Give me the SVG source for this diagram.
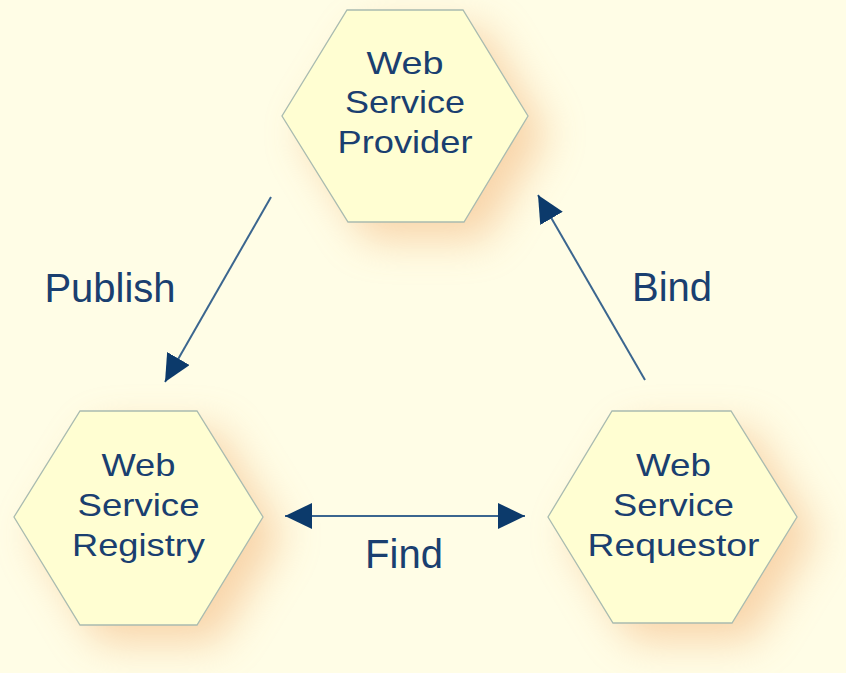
<svg xmlns="http://www.w3.org/2000/svg" width="846" height="673" viewBox="0 0 846 673">
<style>
.hex{fill:#fffed2;stroke:#a9bbb0;stroke-width:1.3}
.glow{fill:#f2ad70;opacity:0.5;filter:url(#blur)}
.nt{font-family:"Liberation Sans",Arial,sans-serif;font-size:32px;fill:#1a3f70;text-anchor:middle}
.lb{font-family:"Liberation Sans",Arial,sans-serif;font-size:40px;fill:#1a3f70;text-anchor:middle}
.edge{stroke:#3b668f;stroke-width:2;fill:none}
</style>
<defs>
<filter id="blur" x="-50%" y="-50%" width="200%" height="200%"><feGaussianBlur stdDeviation="20"/></filter>
<marker id="ah" markerUnits="userSpaceOnUse" markerWidth="30" markerHeight="28" refX="27" refY="13" orient="auto-start-reverse" viewBox="0 0 30 28">
<path d="M0,0 L27,13 L0,26 Z" fill="#0c3a6b"/>
</marker>
</defs>
<rect width="846" height="673" fill="#fffde6"/>
<g id="provider">
<polygon class="glow" points="367,28 483,28 548,134 484,240 368,240 302,134"/>
<polygon class="hex" points="347,10 463,10 528,116 464,222 348,222 282,116"/>
<text class="nt" x="405" y="74" textLength="77" lengthAdjust="spacingAndGlyphs">Web</text>
<text class="nt" x="405" y="113" textLength="120" lengthAdjust="spacingAndGlyphs">Service</text>
<text class="nt" x="405" y="153" textLength="135" lengthAdjust="spacingAndGlyphs">Provider</text>
</g>
<g id="registry">
<polygon class="glow" points="100,429 217,429 283,535 217,643 100,643 34,535"/>
<polygon class="hex" points="80,411 197,411 263,517 197,625 80,625 14,517"/>
<text class="nt" x="138.5" y="476" textLength="74" lengthAdjust="spacingAndGlyphs">Web</text>
<text class="nt" x="138.5" y="516" textLength="122" lengthAdjust="spacingAndGlyphs">Service</text>
<text class="nt" x="138.5" y="556" textLength="133" lengthAdjust="spacingAndGlyphs">Registry</text>
</g>
<g id="requestor">
<polygon class="glow" points="632,429 751,429 817,535 752,641 633,641 568,535"/>
<polygon class="hex" points="612,411 731,411 797,517 732,623 613,623 548,517"/>
<text class="nt" x="673.5" y="476" textLength="75" lengthAdjust="spacingAndGlyphs">Web</text>
<text class="nt" x="673.5" y="516" textLength="121" lengthAdjust="spacingAndGlyphs">Service</text>
<text class="nt" x="673.5" y="556" textLength="172" lengthAdjust="spacingAndGlyphs">Requestor</text>
</g>
<g id="connectors">
<line class="edge" x1="271" y1="197" x2="165" y2="382" marker-end="url(#ah)"/>
<line class="edge" x1="645" y1="380" x2="538" y2="195" marker-end="url(#ah)"/>
<line class="edge" x1="285" y1="516" x2="525" y2="516" marker-start="url(#ah)" marker-end="url(#ah)"/>
<text class="lb" x="110" y="302">Publish</text>
<text class="lb" x="672" y="301">Bind</text>
<text class="lb" x="404" y="568">Find</text>
</g>
</svg>
